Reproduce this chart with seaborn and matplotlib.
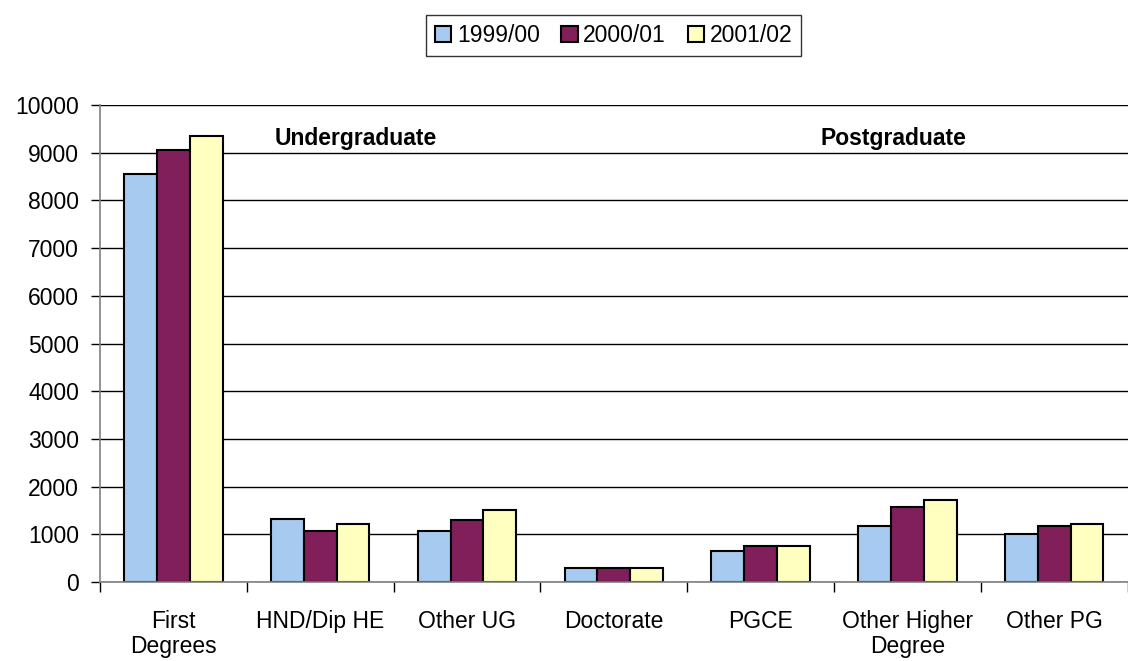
import pandas as pd
import matplotlib.pyplot as plt
import seaborn as sns

categories = ["First\nDegrees", "HND/Dip HE", "Other UG", "Doctorate", "PGCE",
              "Other Higher\nDegree", "Other PG"]
years = ["1999/00", "2000/01", "2001/02"]
v1999 = [8560, 1330, 1080, 290, 660, 1170, 1000]
v2000 = [9060, 1080, 1290, 290, 760, 1580, 1170]
v2001 = [9350, 1210, 1500, 290, 760, 1710, 1210]
colors = ["#A6CAF0", "#801F5A", "#FFFFC0"]

df = pd.DataFrame({"Category": categories * 3,
                   "Year": [y for y in years for _ in categories],
                   "Value": v1999 + v2000 + v2001})

sns.set_style("white")
plt.rcParams['font.family'] = ['Liberation Sans', 'DejaVu Sans']
plt.rcParams['text.color'] = 'black'
plt.rcParams['xtick.color'] = 'black'
plt.rcParams['ytick.color'] = 'black'

fs = 16.5
fig = plt.figure(figsize=(11.28, 6.61), dpi=100)
ax = fig.add_axes([0.0887, 0.1195, 0.911, 0.7215])

sns.barplot(data=df, x="Category", y="Value", hue="Year", palette=colors,
            saturation=1, width=0.67, edgecolor="black", linewidth=1.5, ax=ax, legend=True)

ax.set_ylim(0, 10000)
ax.set_xlim(-0.5, 6.5)
ax.set_yticks(range(0, 10001, 1000))
ax.yaxis.grid(True, color="black", linewidth=1)
ax.set_axisbelow(True)
ax.set_xlabel("")
ax.set_ylabel("")
for s in ["top", "right"]:
    ax.spines[s].set_visible(False)
for s in ["left", "bottom"]:
    ax.spines[s].set_color("#808080")
    ax.spines[s].set_linewidth(1.2)

ax.tick_params(axis="y", labelsize=fs, length=6.5, width=1, left=True, pad=8.5)
ax.tick_params(axis="x", which="major", length=0, labelsize=fs, pad=20)
ax.set_xticks([i + 0.5 for i in range(-1, 7)], minor=True)
ax.tick_params(axis="x", which="minor", length=7, width=1, bottom=True)
for lbl in ax.get_xticklabels():
    lbl.set_linespacing(1.12)
    lbl.set_verticalalignment("top")

ax.text(0.69, 9290, "Undergraduate", fontsize=fs, fontweight="bold", va="center")
ax.text(4.41, 9290, "Postgraduate", fontsize=fs, fontweight="bold", va="center")

handles, labels = ax.get_legend_handles_labels()
ax.get_legend().remove()
leg = fig.legend(handles, labels, loc="center", bbox_to_anchor=(0.544, 0.946), ncol=3,
                 frameon=True, fancybox=False, edgecolor="black", fontsize=fs,
                 handlelength=0.7, handleheight=0.7, handletextpad=0.25,
                 columnspacing=0.95, borderpad=0.4, borderaxespad=0)
leg.get_frame().set_linewidth(1)

plt.savefig("out.png", dpi=100)
plt.close()
